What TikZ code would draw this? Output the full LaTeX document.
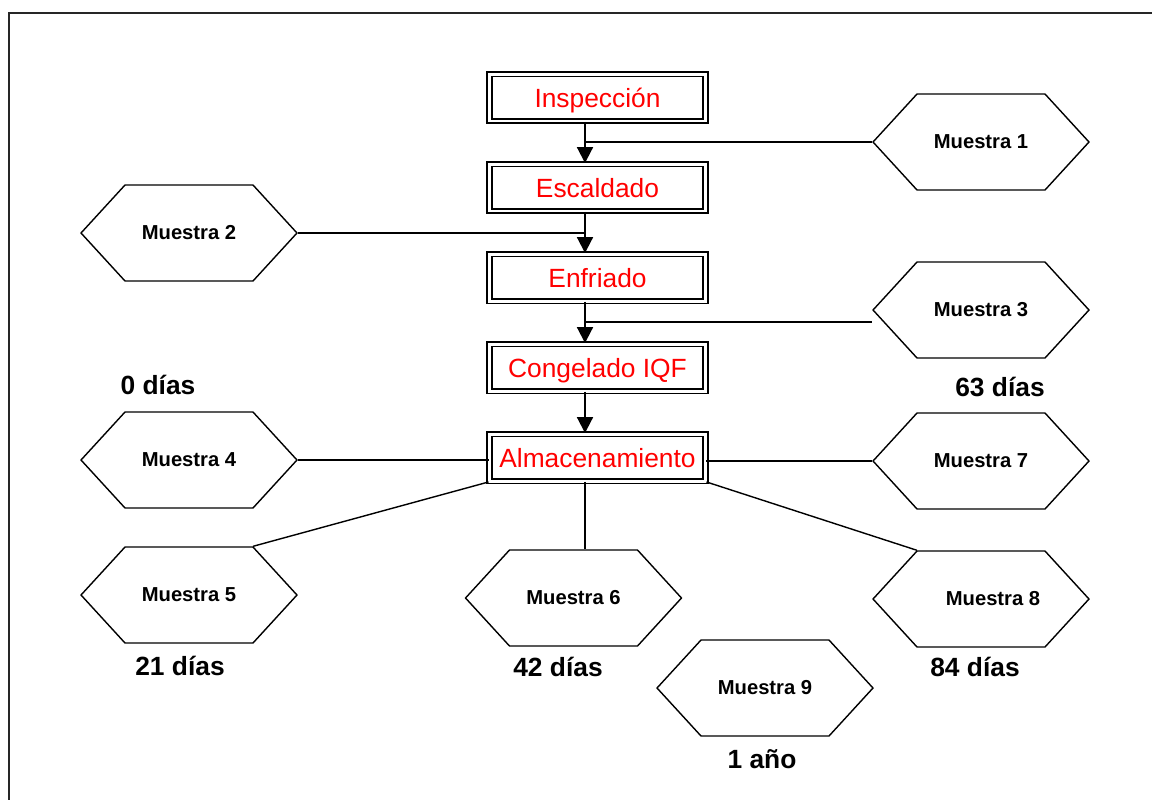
\documentclass[tikz,border=0pt]{standalone}
\usepackage{fontspec}
\setmainfont{Liberation Sans}
\usetikzlibrary{shapes.symbols,arrows.meta,calc}

\tikzset{
  paso/.style={draw, double, line width=1.1pt, double distance=1.7pt,
    minimum width=4.32cm, minimum height=0.94cm, inner sep=0pt,
    text depth=0pt, text=red, font=\fontsize{15}{18}\selectfont},
  muestra/.style={draw, line width=0.8pt, signal, signal to=west and east,
    signal pointer angle=95, minimum width=4.32cm, minimum height=1.92cm,
    inner sep=0pt, font=\bfseries\fontsize{11.5}{14}\selectfont},
  dias/.style={font=\bfseries\fontsize{15}{18}\selectfont},
  flecha/.style={line width=1.1pt, -{Triangle[width=9pt,length=9pt]}},
  linea/.style={line width=0.8pt}
}

\begin{document}
\begin{tikzpicture}[x=0.02cm,y=-0.02cm]
\useasboundingbox (0,0) rectangle (1152,799);
\draw[line width=1.2pt, black!85] (9,13) rectangle (1175,825);

% proceso
\node[paso] (insp) at (597.5,97.5) {Inspección};
\node[paso] (esc) at (597.5,187.5) {Escaldado};
\node[paso] (enf) at (597.5,277.5) {Enfriado};
\node[paso] (cong) at (597.5,367.5) {Congelado IQF};
\node[paso] (alm) at (597.5,457.5) {Almacenamiento};
\coordinate (eje) at (585,0);
\draw[flecha] (insp.south -| eje) -- (esc.north -| eje);
\draw[flecha] (esc.south -| eje) -- (enf.north -| eje);
\draw[flecha] (enf.south -| eje) -- (cong.north -| eje);
\draw[flecha] (cong.south -| eje) -- (alm.north -| eje);

% muestras
\node[muestra] (m1) at (981,142) {Muestra 1};
\node[muestra] (m2) at (189,233) {Muestra 2};
\node[muestra] (m3) at (981,310) {Muestra 3};
\node[muestra] (m4) at (189,460) {Muestra 4};
\node[muestra] (m5) at (189,595) {Muestra 5};
\node[muestra] (m6) at (573.5,598) {Muestra 6};
\node[muestra] (m7) at (981,461) {Muestra 7};
\node[muestra] (m8) at (981,599) {\hspace*{0.48cm}Muestra 8};
\node[muestra] (m9) at (765,688) {Muestra 9};

\draw[linea] (m1.west) -- (m1.west -| eje);
\draw[linea] (m2.east) -- (m2.east -| eje);
\coordinate (j3) at (585,322);
\draw[linea] (j3) -- (j3 -| m3.west);
\draw[linea] (m4.east) -- (m4.east -| alm.west);
\draw[linea] (m7.west) -- (m7.west -| alm.east);
\draw[linea] (alm.south west) -- ($(m5.north)+(64,0)$);
\draw[linea] (alm.south -| eje) -- (m6.north -| eje);
\draw[linea] (alm.south east) -- ($(m8.north)+(-64,0)$);

% tiempos
\node[dias] (t0) at (158,385) {0 días};
\node[dias] (t63) at (1000,387) {63 días};
\node[dias] (t21) at (180,666) {21 días};
\node[dias] (t42) at (558,667) {42 días};
\node[dias] (t84) at (975,667) {84 días};
\node[dias] (t1) at (762,759) {1 año};
\end{tikzpicture}
\end{document}
